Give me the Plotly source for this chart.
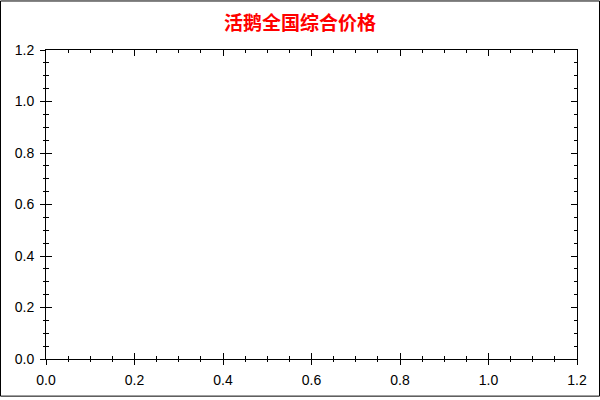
import plotly.graph_objects as go

# Data (the reference chart is empty: no series values)
x_values = []
y_values = []
title_text = "活鹅全国综合价格"
x_range = [0, 1.2]
y_range = [0, 1.2]
tick_vals = [0, 0.2, 0.4, 0.6, 0.8, 1.0, 1.2]
tick_text = ["0.0", "0.2", "0.4", "0.6", "0.8", "1.0", "1.2"]

W, H = 600, 400
ML, MR, MT, MB = 46, 23, 50, 38
PW, PH = W - ML - MR, H - MT - MB

tickfont = dict(family="Liberation Sans, Arial, sans-serif", size=14, color="black")

fig = go.Figure()
fig.add_trace(go.Scatter(x=x_values, y=y_values, mode="lines", showlegend=False))
fig.add_trace(go.Scatter(x=x_values, y=y_values, mode="lines", xaxis="x2", yaxis="y2",
                         showlegend=False, hoverinfo="skip"))

main_axis = dict(
    range=x_range, tickvals=tick_vals, ticktext=tick_text,
    ticks="inside", ticklen=6, tickwidth=1, tickcolor="black",
    showline=True, linecolor="black", linewidth=1, mirror="ticks",
    showgrid=False, zeroline=False, tickfont=tickfont, ticklabelstandoff=8,
    minor=dict(ticks="inside", ticklen=3, tickwidth=1, tickcolor="black",
               dtick=0.05, tick0=0, showgrid=False),
    fixedrange=True,
)
over_axis = dict(
    ticks="outside", ticklen=5, tickwidth=1, tickcolor="black",
    tickvals=tick_vals, showticklabels=False, showline=False,
    showgrid=False, zeroline=False,
    minor=dict(ticks="outside", ticklen=2, tickwidth=1, tickcolor="black",
               dtick=0.05, tick0=0, showgrid=False),
    fixedrange=True,
)

fig.update_layout(
    width=W, height=H, autosize=False,
    margin=dict(l=ML, r=MR, t=MT, b=MB, pad=0),
    paper_bgcolor="white", plot_bgcolor="white",
    title=dict(text="<b>" + title_text + "</b>", x=0.5, xanchor="center", xref="container",
               y=1 - 23 / H, yanchor="middle", yref="container",
               font=dict(family="Noto Sans CJK SC", size=19, color="#FF0000")),
    xaxis=dict(main_axis),
    yaxis=dict(main_axis, range=y_range),
    xaxis2=dict(over_axis, range=x_range, overlaying="x", side="bottom", anchor="y"),
    yaxis2=dict(over_axis, range=y_range, overlaying="y", side="left", anchor="x"),
    showlegend=False,
    shapes=[dict(type="rect", xref="paper", yref="paper",
                 x0=(0.5 - ML) / PW, x1=(W - 0.5 - ML) / PW,
                 y0=(H - MB - (H - 0.5)) / PH, y1=(H - MB - 0.5) / PH,
                 line=dict(color="black", width=1), fillcolor="rgba(0,0,0,0)",
                 layer="above")],
)

fig.write_html("out.html", config={"displayModeBar": False},
               post_script="document.body.style.margin='0';document.body.style.overflow='hidden';"
                           "document.documentElement.style.overflow='hidden';window.scrollTo(0,0);")
